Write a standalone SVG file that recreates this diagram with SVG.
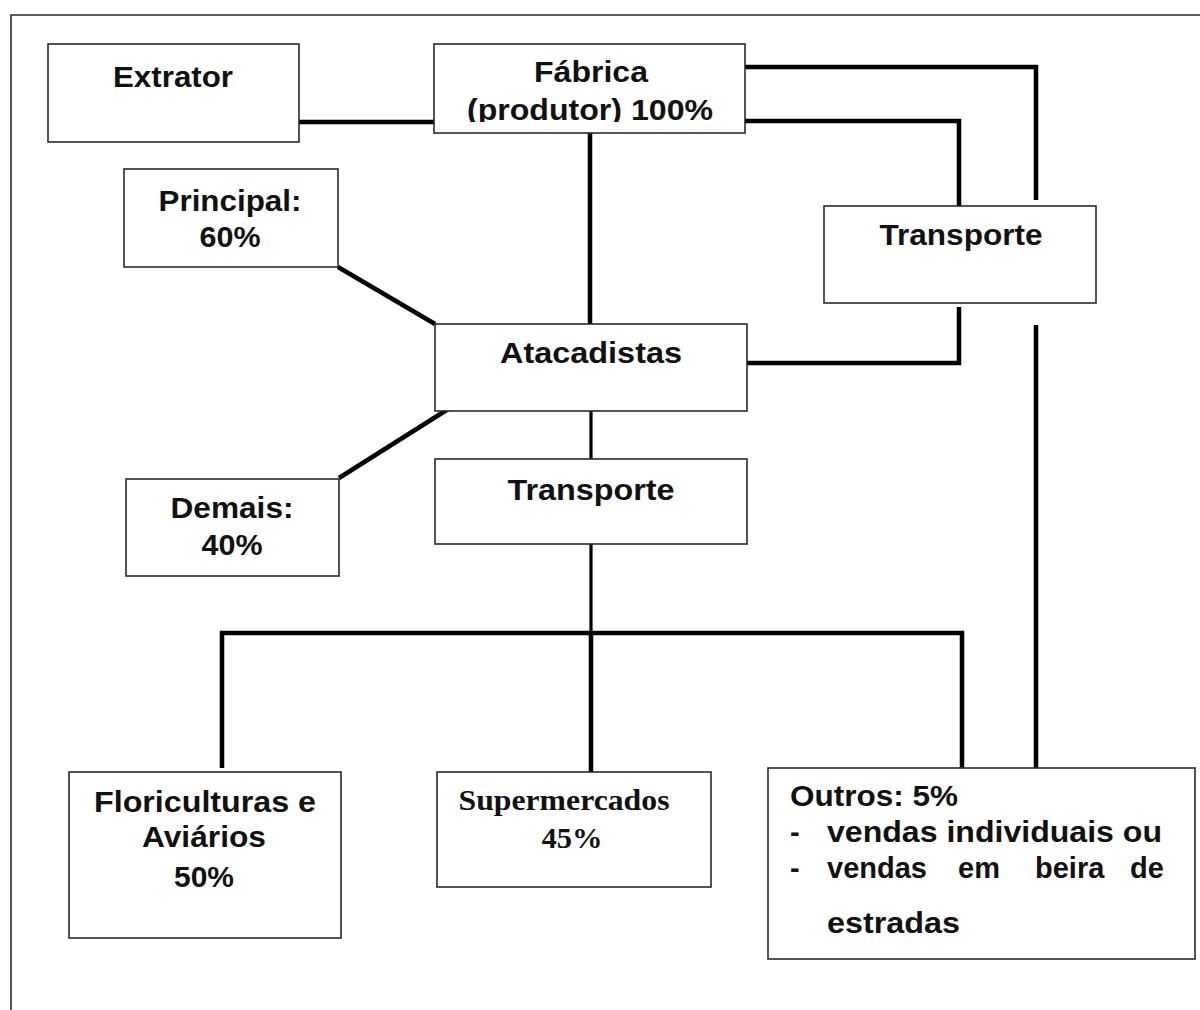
<svg xmlns="http://www.w3.org/2000/svg" width="1200" height="1010" viewBox="0 0 1200 1010">
<style>
.box{fill:#fff;stroke:#2a2a2a;stroke-width:1.6}
.frame{fill:none;stroke:#2a2a2a;stroke-width:1.6}
.con{fill:none;stroke:#000;stroke-width:4.5;stroke-linejoin:miter}
.thin{stroke-width:3.2}
.t{font-family:"Liberation Sans",Arial,sans-serif;font-weight:bold;font-size:29px;fill:#111;text-anchor:middle}
.l{text-anchor:start}
.s{font-family:"Liberation Serif","Times New Roman",serif;font-weight:bold;font-size:30px;fill:#111;text-anchor:middle}
</style>
<defs>
<clipPath id="fabClip"><rect x="434" y="44" width="311" height="78"/></clipPath>
</defs>
<rect width="1200" height="1010" fill="#fff"/>
<path class="frame" d="M11,1010 V15 H1200"/>

<g id="connectors">
<path class="con" d="M299,122 H434"/>
<path class="con" d="M745,67 H1036 V200"/>
<path class="con" d="M745,121 H959 V206"/>
<path class="con" d="M590,133 V324"/>
<path class="con" d="M338,267 L435,324"/>
<path class="con" d="M339,478 L453,406"/>
<path class="con" d="M959,307 V363 H747"/>
<path class="con" d="M1036,325 V768"/>
<path class="con thin" d="M591,405 V459"/>
<path class="con thin" d="M591,544 V633"/>
<path class="con" d="M222,768 V633 H962 V768"/>
<path class="con" d="M591,633 V772"/>
</g>

<g id="extrator">
<rect class="box" x="48" y="44" width="251" height="98"/>
<text class="t" x="173" y="87" textLength="120" lengthAdjust="spacingAndGlyphs">Extrator</text>
</g>

<g id="fabrica">
<rect class="box" x="434" y="44" width="311" height="89"/>
<text class="t" x="591" y="82" textLength="114" lengthAdjust="spacingAndGlyphs">Fábrica</text>
<text class="t" x="590" y="120" clip-path="url(#fabClip)" textLength="246" lengthAdjust="spacingAndGlyphs">(produtor) 100%</text>
</g>

<g id="principal">
<rect class="box" x="124" y="169" width="214" height="98"/>
<text class="t" x="230" y="211" textLength="143" lengthAdjust="spacingAndGlyphs">Principal:</text>
<text class="t" x="230" y="247" textLength="61" lengthAdjust="spacingAndGlyphs">60%</text>
</g>

<g id="transporte-direita">
<rect class="box" x="824" y="206" width="272" height="97"/>
<text class="t" x="961" y="245" textLength="163" lengthAdjust="spacingAndGlyphs">Transporte</text>
</g>

<g id="atacadistas">
<rect class="box" x="435" y="324" width="312" height="87"/>
<text class="t" x="591" y="363" textLength="182" lengthAdjust="spacingAndGlyphs">Atacadistas</text>
</g>

<g id="demais">
<rect class="box" x="126" y="479" width="213" height="97"/>
<text class="t" x="232" y="518" textLength="123" lengthAdjust="spacingAndGlyphs">Demais:</text>
<text class="t" x="232" y="555" textLength="61" lengthAdjust="spacingAndGlyphs">40%</text>
</g>

<g id="transporte-meio">
<rect class="box" x="435" y="459" width="312" height="85"/>
<text class="t" x="591" y="500" textLength="167" lengthAdjust="spacingAndGlyphs">Transporte</text>
</g>

<g id="floriculturas">
<rect class="box" x="69" y="772" width="272" height="166"/>
<text class="t" x="205" y="812" textLength="222" lengthAdjust="spacingAndGlyphs">Floriculturas e</text>
<text class="t" x="204" y="847" textLength="124" lengthAdjust="spacingAndGlyphs">Aviários</text>
<text class="t" x="204" y="887" textLength="60" lengthAdjust="spacingAndGlyphs">50%</text>
</g>

<g id="supermercados">
<rect class="box" x="437" y="772" width="274" height="115"/>
<text class="s" x="564" y="810" textLength="211" lengthAdjust="spacingAndGlyphs">Supermercados</text>
<text class="s" x="572" y="848" textLength="61" lengthAdjust="spacingAndGlyphs">45%</text>
</g>

<g id="outros">
<rect class="box" x="768" y="768" width="427" height="191"/>
<text class="t l" x="790" y="806" textLength="168" lengthAdjust="spacingAndGlyphs">Outros: 5%</text>
<text class="t l" x="790" y="842">-</text>
<text class="t l" x="827" y="842" textLength="335" lengthAdjust="spacingAndGlyphs">vendas individuais ou</text>
<text class="t l" x="790" y="878">-</text>
<text class="t l" y="878"><tspan x="827">vendas</tspan><tspan x="958">em</tspan><tspan x="1035">beira</tspan><tspan x="1130">de</tspan></text>
<text class="t l" x="827" y="933" textLength="133" lengthAdjust="spacingAndGlyphs">estradas</text>
</g>
</svg>
